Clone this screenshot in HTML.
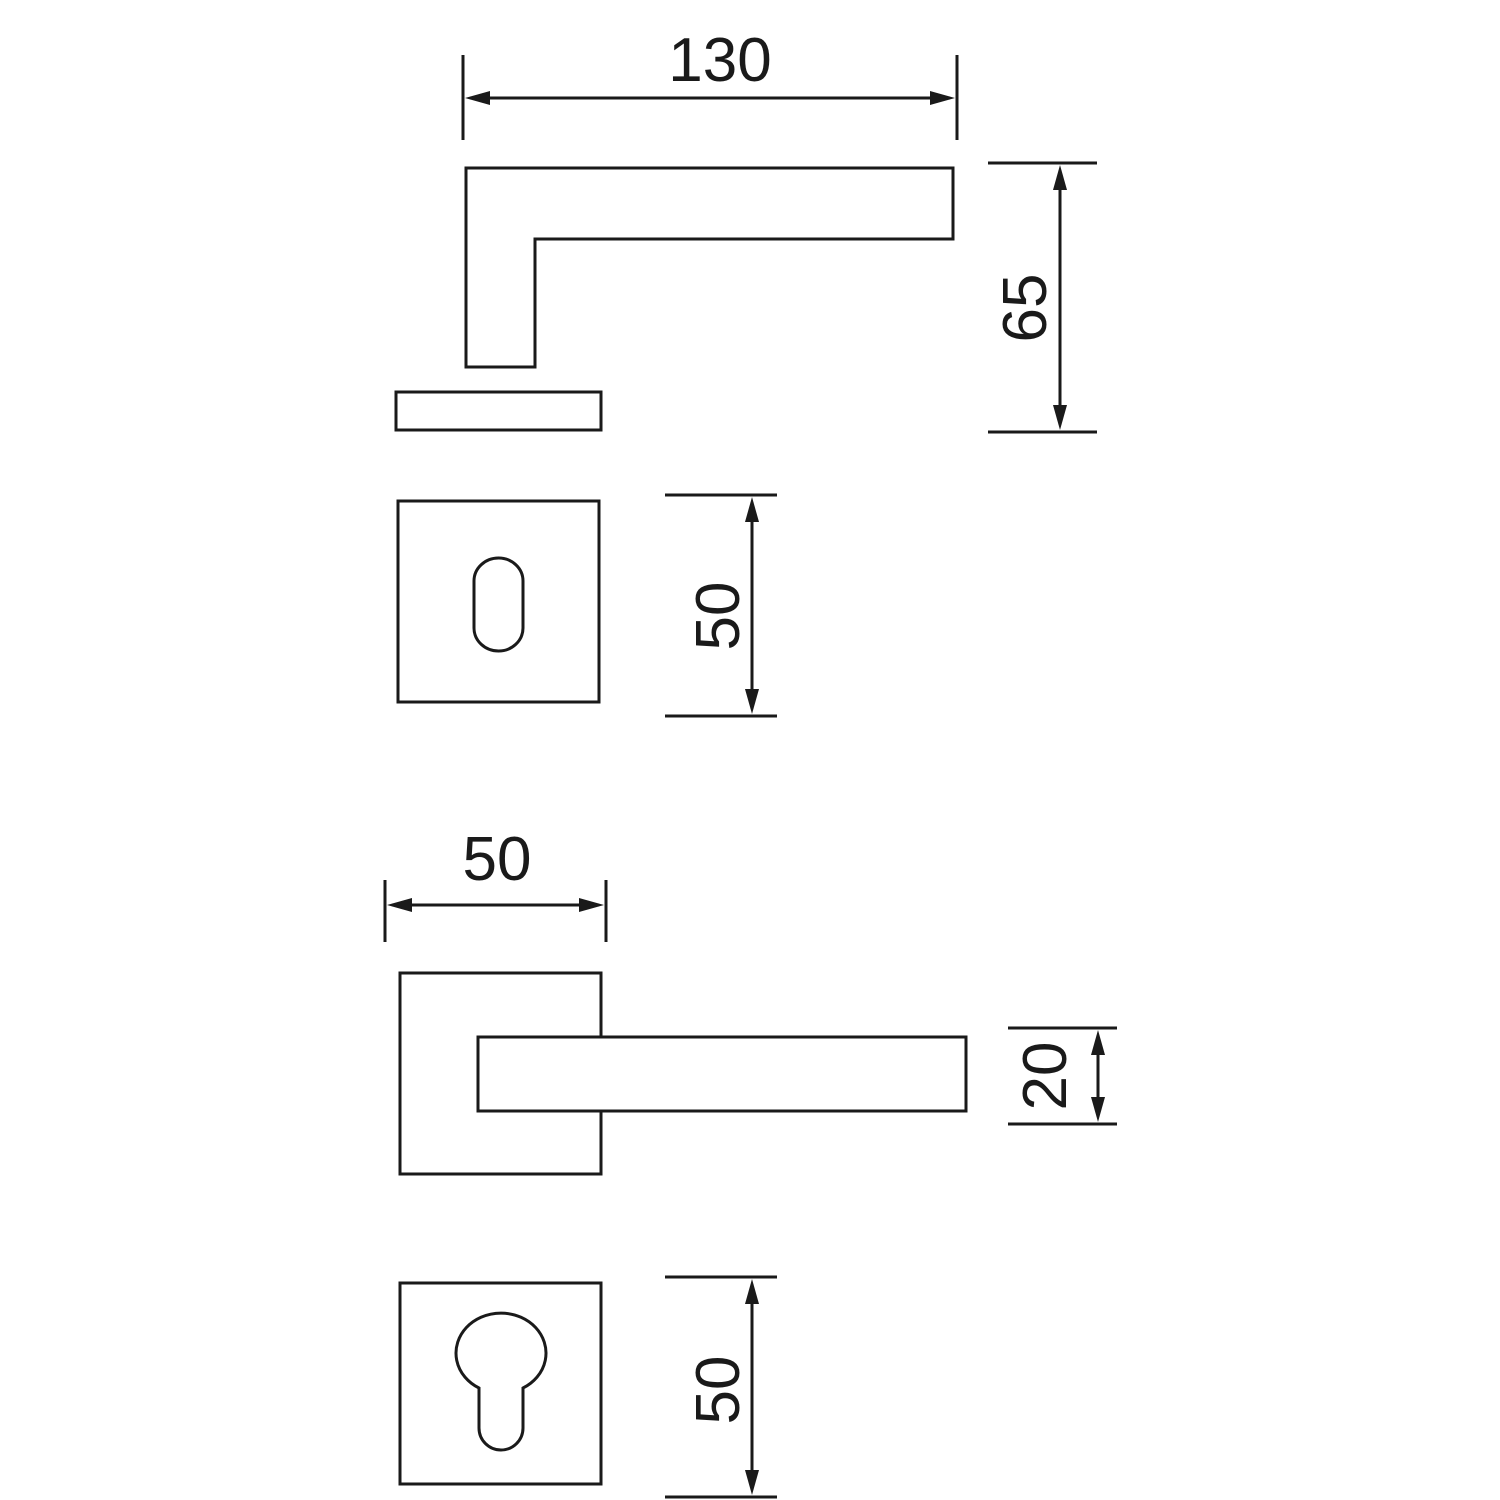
<!DOCTYPE html>
<html><head><meta charset="utf-8"><style>
html,body{margin:0;padding:0;background:#fff}
svg{display:block}
text{font-family:"Liberation Sans",sans-serif;font-size:62px;fill:#1a1a1a}
</style></head><body>
<svg width="1500" height="1500" viewBox="0 0 1500 1500" xmlns="http://www.w3.org/2000/svg">
<g stroke="#1a1a1a" stroke-width="3" fill="none">
<!-- 130 dim -->
<line x1="463" y1="55" x2="463" y2="140"/>
<line x1="957" y1="55" x2="957" y2="140"/>
<line x1="470" y1="98" x2="950" y2="98"/>
<!-- lever side -->
<path d="M466 168 H953 V239 H535 V367 H466 Z"/>
<rect x="396" y="392" width="205" height="38"/>
<!-- 65 dim -->
<line x1="988" y1="163" x2="1097" y2="163"/>
<line x1="988" y1="432" x2="1097" y2="432"/>
<line x1="1060" y1="170" x2="1060" y2="425"/>
<!-- keyhole escutcheon -->
<rect x="398" y="501" width="201" height="201"/>
<path d="M474 581 A24.5 23 0 0 1 523 581 V628 A24.5 23 0 0 1 474 628 Z"/>
<line x1="665" y1="495" x2="777" y2="495"/>
<line x1="665" y1="716" x2="777" y2="716"/>
<line x1="752" y1="502" x2="752" y2="709"/>
<!-- 50 horizontal -->
<line x1="385" y1="880" x2="385" y2="942"/>
<line x1="606" y1="880" x2="606" y2="942"/>
<line x1="392" y1="905" x2="599" y2="905"/>
<!-- front view -->
<rect x="400" y="973" width="201" height="201"/>
<rect x="478" y="1037" width="488" height="74" fill="#fff"/>
<line x1="1008" y1="1028" x2="1117" y2="1028"/>
<line x1="1008" y1="1124" x2="1117" y2="1124"/>
<line x1="1098" y1="1035" x2="1098" y2="1117"/>
<!-- cylinder escutcheon -->
<rect x="400" y="1283" width="201" height="201"/>
<path d="M479 1388 A45 40 0 1 1 523 1388 V1428 A22 22 0 0 1 479 1428 Z"/>
<line x1="665" y1="1277" x2="777" y2="1277"/>
<line x1="665" y1="1497" x2="777" y2="1497"/>
<line x1="752" y1="1284" x2="752" y2="1490"/>
</g>
<g fill="#1a1a1a">
<polygon points="465,98 490,91 490,105"/>
<polygon points="955,98 930,91 930,105"/>
<polygon points="1060,165 1053,190 1067,190"/>
<polygon points="1060,430 1053,405 1067,405"/>
<polygon points="752,497 745,522 759,522"/>
<polygon points="752,714 745,689 759,689"/>
<polygon points="387,905 412,898 412,912"/>
<polygon points="604,905 579,898 579,912"/>
<polygon points="1098,1030 1091,1055 1105,1055"/>
<polygon points="1098,1122 1091,1097 1105,1097"/>
<polygon points="752,1279 745,1304 759,1304"/>
<polygon points="752,1495 745,1470 759,1470"/>
</g>
<text x="720" y="81" text-anchor="middle">130</text>
<text x="497" y="880" text-anchor="middle">50</text>
<text transform="translate(1046,308) rotate(-90)" text-anchor="middle">65</text>
<text transform="translate(739,616) rotate(-90)" text-anchor="middle">50</text>
<text transform="translate(1066,1076) rotate(-90)" text-anchor="middle">20</text>
<text transform="translate(739,1390) rotate(-90)" text-anchor="middle">50</text>
</svg>
</body></html>
